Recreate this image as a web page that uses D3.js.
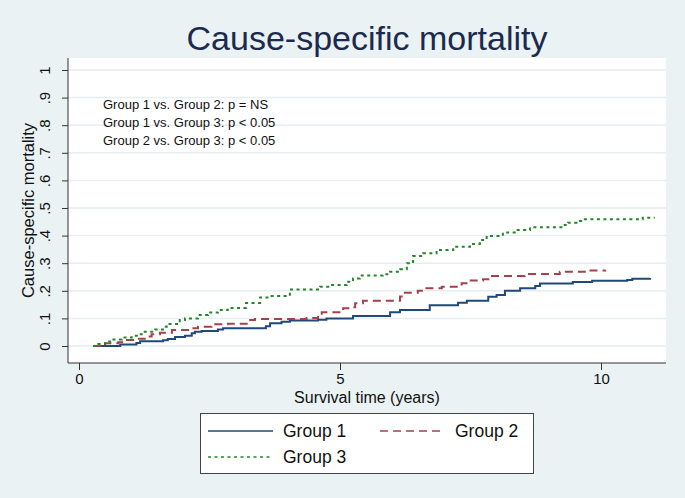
<!DOCTYPE html>
<html>
<head>
<meta charset="utf-8">
<script src="https://cdn.jsdelivr.net/npm/d3@7"></script>
<style>
  html, body {margin: 0; padding: 0; background: #eaf2f3;}
  svg {display: block; font-family: 'Liberation Sans', Arial, sans-serif;}
</style>
</head>
<body>
<div class='container'></div>
<script>

var xTicks = [0, 5, 10]
var yTicks = [0, .1, .2, .3, .4, .5, .6, .7, .8, .9, 1]
var yTickLabels = ['0', '.1', '.2', '.3', '.4', '.5', '.6', '.7', '.8', '.9', '1']

var groupNames = ['Group 1', 'Group 2', 'Group 3']

var g1Years = [0.27, 0.79, 1.10, 1.17, 1.61, 1.70, 1.84, 2.03, 2.16, 2.22, 2.35, 2.66, 2.76, 3.58, 3.66, 3.88, 4.04, 4.58, 4.74, 5.25, 5.96, 6.15, 6.72, 7.26, 7.43, 7.84, 8.00, 8.16, 8.45, 8.74, 8.83, 9.46, 9.83, 10.50, 10.60, 10.94]
var g1Risk = [0, .005, .011, .017, .021, .025, .033, .037, .046, .052, .054, .060, .064, .072, .082, .088, .092, .095, .100, .109, .122, .130, .148, .157, .164, .178, .185, .200, .209, .217, .226, .232, .236, .239, .244, .246]

var g2Years = [0.27, 0.50, 0.75, 0.88, 1.07, 1.26, 1.39, 1.55, 1.78, 2.16, 2.28, 2.54, 2.85, 3.28, 3.37, 4.36, 4.58, 4.65, 5.06, 5.19, 5.29, 5.44, 6.15, 6.21, 6.49, 6.59, 6.95, 7.33, 7.45, 7.74, 7.87, 8.54, 9.21, 9.69, 10.08]
var g2Risk = [0, .010, .014, .022, .026, .034, .043, .048, .058, .064, .070, .079, .081, .094, .098, .101, .112, .122, .137, .140, .155, .164, .179, .193, .200, .209, .215, .227, .237, .242, .254, .261, .269, .274, .276]

var g3Years = [0.27, 0.37, 0.50, 0.63, 0.82, 1.01, 1.13, 1.26, 1.46, 1.61, 1.68, 1.93, 2.03, 2.28, 2.47, 2.66, 2.85, 3.20, 3.47, 3.66, 4.04, 4.62, 4.81, 5.13, 5.25, 5.38, 5.82, 5.96, 6.15, 6.28, 6.40, 6.59, 6.85, 7.17, 7.49, 7.68, 7.81, 8.12, 8.38, 8.64, 9.27, 9.37, 9.53, 9.69, 10.80, 11.03]
var g3Risk = [0, .007, .016, .024, .031, .037, .043, .052, .060, .070, .080, .094, .100, .112, .121, .130, .138, .156, .176, .181, .205, .215, .221, .233, .245, .255, .260, .269, .278, .300, .326, .336, .348, .360, .370, .384, .399, .411, .420, .430, .438, .447, .453, .459, .465, .465]

var pValues = [
  'Group 1 vs. Group 2: p = NS',
  'Group 1 vs. Group 3: p < 0.05',
  'Group 2 vs. Group 3: p < 0.05',
]

var series = [
  {name: groupNames[0], years: g1Years, risk: g1Risk, color: '#1f4a78', dash: null},
  {name: groupNames[1], years: g2Years, risk: g2Risk, color: '#a3424b', dash: '8,5'},
  {name: groupNames[2], years: g3Years, risk: g3Risk, color: '#24862a', dash: '3,3.5'},
]

var width = 685, height = 498
var plot = {left: 68, top: 58, right: 666, bottom: 363}

var x = d3.scaleLinear().domain([0, 10]).range([79, 601])
var y = d3.scaleLinear().domain([0, 1]).range([346, 70])

var svg = d3.select('.container').append('svg')
  .attr('width', width)
  .attr('height', height)

svg.append('rect')
  .attr('width', width).attr('height', height)
  .attr('fill', '#eaf2f3')

svg.append('text')
  .attr('x', 367).attr('y', 50)
  .attr('text-anchor', 'middle')
  .attr('font-size', 34)
  .attr('fill', '#1b2a4e')
  .text('Cause-specific mortality')

// plot region
svg.append('rect')
  .attr('x', plot.left).attr('y', plot.top)
  .attr('width', plot.right - plot.left)
  .attr('height', plot.bottom - plot.top)
  .attr('fill', '#fff')

svg.append('g')
  .selectAll('line')
  .data(yTicks)
  .join('line')
  .attr('x1', plot.left).attr('x2', plot.right)
  .attr('y1', d => y(d)).attr('y2', d => y(d))
  .attr('stroke', '#e6eef1')
  .attr('stroke-width', 1.5)

// y axis
var yAxis = svg.append('g')
  .attr('transform', `translate(${plot.left},0)`)
  .call(d3.axisLeft(y).tickValues(yTicks).tickSize(6).tickFormat((d, i) => yTickLabels[i]))

yAxis.select('.domain').attr('d', `M0,${plot.top}V${plot.bottom}`).attr('stroke', '#333')
yAxis.selectAll('.tick line').attr('stroke', '#333')
yAxis.selectAll('.tick text')
  .attr('x', 0).attr('y', 0).attr('dy', 0)
  .attr('transform', 'translate(-18,0) rotate(-90)')
  .attr('text-anchor', 'middle')
  .attr('font-size', 15)
  .attr('fill', '#111')

// x axis
var xAxis = svg.append('g')
  .attr('transform', `translate(0,${plot.bottom})`)
  .call(d3.axisBottom(x).tickValues(xTicks).tickSize(7).tickFormat(d3.format('d')))

xAxis.select('.domain').attr('d', `M${plot.left},0H${plot.right}`).attr('stroke', '#333')
xAxis.selectAll('.tick line').attr('stroke', '#333')
xAxis.selectAll('.tick text')
  .attr('y', 0).attr('dy', 0)
  .attr('transform', 'translate(0,21)')
  .attr('font-size', 15)
  .attr('fill', '#111')

svg.append('text')
  .attr('x', (plot.left + plot.right)/2).attr('y', 403)
  .attr('text-anchor', 'middle')
  .attr('font-size', 16)
  .attr('fill', '#111')
  .text('Survival time (years)')

svg.append('text')
  .attr('transform', `translate(34,${(plot.top + plot.bottom)/2}) rotate(-90)`)
  .attr('text-anchor', 'middle')
  .attr('font-size', 16.5)
  .attr('fill', '#111')
  .text('Cause-specific mortality')

// curves
var line = d3.line()
  .x(d => x(d[0]))
  .y(d => y(d[1]))
  .curve(d3.curveStepAfter)

svg.append('g')
  .selectAll('path')
  .data(series)
  .join('path')
  .attr('d', d => line(d3.zip(d.years, d.risk)))
  .attr('fill', 'none')
  .attr('stroke', d => d.color)
  .attr('stroke-width', 2)
  .attr('stroke-dasharray', d => d.dash)

// p-value notes
svg.append('g')
  .selectAll('text')
  .data(pValues)
  .join('text')
  .attr('x', 103)
  .attr('y', (d, i) => 109 + i*18)
  .attr('font-size', 13)
  .attr('fill', '#111')
  .text(d => d)

// legend
var legend = svg.append('g')
legend.append('rect')
  .attr('x', 200.5).attr('y', 413.5)
  .attr('width', 333).attr('height', 60)
  .attr('fill', '#fff')
  .attr('stroke', '#444')
  .attr('stroke-width', 1)

var legendPos = [[208, 431], [380, 431], [208, 457]]

var itemSel = legend.selectAll('g.item')
  .data(series)
  .join('g')
  .attr('class', 'item')
  .attr('transform', (d, i) => `translate(${legendPos[i][0]},${legendPos[i][1]})`)

itemSel.append('line')
  .attr('x1', 0).attr('x2', 65)
  .attr('stroke', d => d.color)
  .attr('stroke-width', 1.5)
  .attr('stroke-dasharray', d => d.dash)

itemSel.append('text')
  .attr('x', 75).attr('y', 6)
  .attr('font-size', 17.5)
  .attr('fill', '#111')
  .text(d => d.name)

</script>
</body>
</html>
